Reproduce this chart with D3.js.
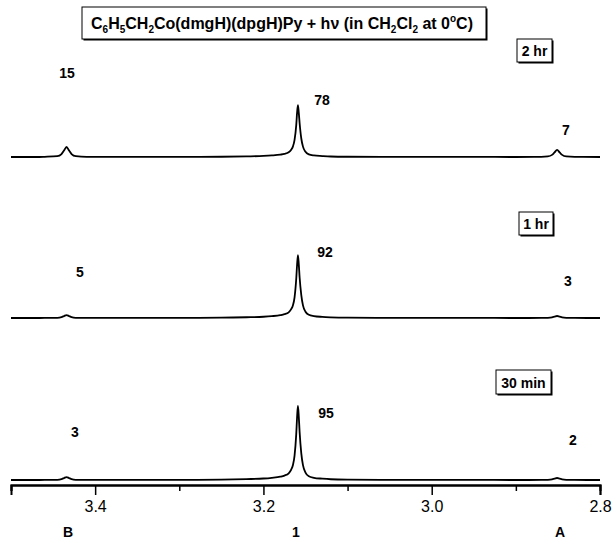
<!DOCTYPE html>
<html><head><meta charset="utf-8">
<script src="https://cdn.jsdelivr.net/npm/d3@7/dist/d3.min.js"></script>
<style>body{margin:0;background:#fff}svg{display:block}</style>
</head><body>
<script>
// chemical shift grid (ppm) shared by the three traces
const ppm = [3.5,3.47,3.46,3.445,3.44,3.437,3.434,3.431,3.428,3.423,3.41,3.35,3.3,3.25,3.22,3.2,3.19,3.18,3.175,3.17,3.167,3.165,3.163,3.161,3.16,3.159,3.158,3.157,3.155,3.153,3.15,3.146,3.14,3.13,3.12,3.1,3.05,3.0,2.95,2.9,2.87,2.862,2.857,2.854,2.851,2.848,2.845,2.84,2.83,2.8];
const int2hr = [0,0,0.3,1.1,4,8.8,13.5,8.8,4,1.1,0.3,0.1,0.2,0.35,0.8,1.4,2.1,3.2,4.2,6.3,9.8,14,23,43,60,70,60,46,25,14,7,3.5,2.1,1.3,0.7,0.35,0.15,0.1,0.1,0,0.2,0.8,2.9,6.2,9.5,6.2,2.9,0.8,0.2,0];
const int1hr = [0,0,0.1,0.3,1.2,2.6,4,2.6,1.2,0.3,0.1,0.1,0.2,0.4,1,1.7,2.5,3.8,5.1,7.7,12,17,28,53,72,85,73,55,31,17,8.5,4.3,2.6,1.5,0.9,0.4,0.2,0.1,0.1,0,0.05,0.2,0.8,1.8,2.7,1.8,0.8,0.2,0.05,0];
const int30 = [0,0,0.1,0.3,1.2,2.6,4,2.6,1.2,0.3,0.1,0.1,0.2,0.5,1.2,2,3,4.5,6,9,14,20,33,62,85,100,86,65,36,20,10,5,3,1.8,1,0.5,0.2,0.1,0.1,0,0.05,0.2,0.8,1.8,2.7,1.8,0.8,0.2,0.05,0];
const panelNames = ["2 hr","1 hr","30 min"];
// product percentages: B, 1, A
const pctB = ["15","5","3"];
const pct1 = ["78","92","95"];
const pctA = ["7","3","2"];
const peakLabels = ["B","1","A"];
const majorTicks = [3.4,3.2,3.0,2.8];
const minorTicks = [3.5,3.3,3.1,2.9];

const W=613,H=540;
const svg=d3.select("body").append("svg").attr("width",W).attr("height",H);
const x=d3.scaleLinear().domain([3.5,2.8]).range([11,600]);
const baselines=[157,318,480];
const traces=[int2hr,int1hr,int30];
const bold="Liberation Sans, Arial, sans-serif";

traces.forEach((tr,i)=>{
  const y=d3.scaleLinear().domain([0,100]).range([baselines[i],baselines[i]-74]);
  const line=d3.line().x((d,j)=>x(ppm[j])).y(d=>y(d)).curve(d3.curveMonotoneX);
  svg.append("path").datum(tr).attr("d",line).attr("fill","none").attr("stroke","#000").attr("stroke-width",1.8).attr("stroke-linejoin","round");
});

// peak percentage labels
const lblPos=[
  [[67,78],[322,105],[566,135]],
  [[80,277],[325,257],[568,286]],
  [[75,437],[326,418],[573,445]]
];
[pctB,pct1,pctA].forEach((arr,k)=>{
  arr.forEach((t,i)=>{
    svg.append("text").attr("x",lblPos[i][k][0]).attr("y",lblPos[i][k][1])
      .attr("text-anchor","middle").attr("font-family",bold).attr("font-weight","bold")
      .attr("font-size",14).text(t);
  });
});

// boxed labels
function box(x0,y0,w,h,draw){
  svg.append("rect").attr("x",x0+1.5).attr("y",y0+1.5).attr("width",w).attr("height",h).attr("fill","#000");
  svg.append("rect").attr("x",x0).attr("y",y0).attr("width",w).attr("height",h).attr("fill","#fff").attr("stroke","#000").attr("stroke-width",1);
  draw();
}
const boxes=[[517,39,35,23,56],[519,212,34,23,229],[496,370,55,24,388]];
panelNames.forEach((n,i)=>{
  const b=boxes[i];
  box(b[0],b[1],b[2],b[3],()=>{
    svg.append("text").attr("x",b[0]+b[2]/2).attr("y",b[4]).attr("text-anchor","middle")
      .attr("font-family",bold).attr("font-weight","bold").attr("font-size",14).text(n);
  });
});

// title
box(82,7,404,32,()=>{
  const t=svg.append("text").attr("x",282).attr("y",29).attr("text-anchor","middle")
    .attr("font-family",bold).attr("font-weight","bold").attr("font-size",16);
  const parts=[["C",0],["6",1],["H",0],["5",1],["CH",0],["2",1],["Co(dmgH)(dpgH)Py + h\u03BD (in CH",0],["2",1],["Cl",0],["2",1],[" at 0",0],["o",2],["C)",0]];
  let prev=0;
  parts.forEach(p=>{
    const s=t.append("tspan").text(p[0]);
    const target=p[1]===1?4:(p[1]===2?-7:0);
    if(p[1]!==0) s.attr("font-size",10);
    s.attr("dy",target-prev);
    prev=target;
  });
});

// axis
const axisY=485;
const gMaj=svg.append("g").attr("transform",`translate(0,${axisY})`)
  .call(d3.axisBottom(x).tickValues(majorTicks).tickFormat(d3.format(".1f")).tickSizeOuter(0).tickSize(10).tickPadding(6));
const gMin=svg.append("g").attr("transform",`translate(0,${axisY})`)
  .call(d3.axisBottom(x).tickValues(minorTicks).tickFormat("").tickSizeOuter(0).tickSize(6));
[gMaj,gMin].forEach(g=>{
  g.select(".domain").attr("stroke","#000").attr("stroke-width",2);
  g.selectAll(".tick line").attr("stroke","#000").attr("stroke-width",1.5);
});
gMaj.selectAll(".tick text").attr("font-family","Liberation Sans, Arial, sans-serif").attr("font-size",16).attr("fill","#000");

// compound labels under axis
peakLabels.forEach((l,i)=>{
  svg.append("text").attr("x",[68,296,560][i]).attr("y",537).attr("text-anchor","middle")
    .attr("font-family",bold).attr("font-weight","bold").attr("font-size",14).text(l);
});
</script>
</body></html>
